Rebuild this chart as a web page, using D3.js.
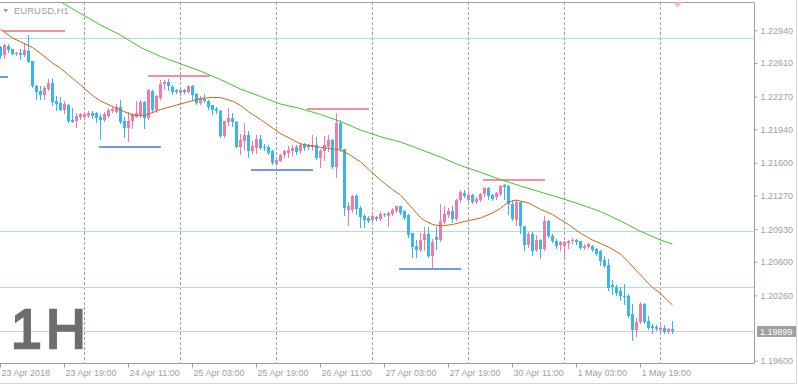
<!DOCTYPE html>
<html>
<head>
<meta charset="utf-8">
<script src="https://cdnjs.cloudflare.com/ajax/libs/d3/7.8.5/d3.min.js"></script>
<style>
  html, body { margin: 0; padding: 0; background: #fff; }
  svg { display: block; }
</style>
</head>
<body>
<svg id="chart"></svg>
<script>
// EURUSD H1, one value per bar (bar 0 = 23 Apr 2018 03:00)
const open = [
  1.22776, 1.22690, 1.22786, 1.22746, 1.22705, 1.22710, 1.22690, 1.22735, 1.22629, 1.22381,
  1.22331, 1.22281, 1.22346, 1.22412, 1.22230, 1.22210, 1.22134, 1.22185, 1.22033, 1.22028,
  1.22068, 1.22068, 1.22078, 1.22109, 1.22099, 1.22068, 1.22033, 1.22073, 1.22129, 1.22119,
  1.22164, 1.22028, 1.21957, 1.22023, 1.22068, 1.22084, 1.22220, 1.22058, 1.22331, 1.22134,
  1.22260, 1.22397, 1.22422, 1.22367, 1.22336, 1.22311, 1.22336, 1.22321, 1.22377, 1.22296,
  1.22210, 1.22250, 1.22230, 1.22180, 1.22149, 1.22129, 1.21871, 1.22018, 1.22053, 1.22018,
  1.21765, 1.21821, 1.21881, 1.21715, 1.21755, 1.21846, 1.21765, 1.21765, 1.21715, 1.21588,
  1.21619, 1.21679, 1.21699, 1.21720, 1.21765, 1.21715, 1.21780, 1.21780, 1.21765, 1.21785,
  1.21654, 1.21720, 1.21765, 1.21831, 1.21563, 1.21998, 1.21740, 1.21123, 1.21123, 1.21260,
  1.21148, 1.21062, 1.21047, 1.21027, 1.21057, 1.21037, 1.21088, 1.21067, 1.21083, 1.21118,
  1.21159, 1.21118, 1.21073, 1.20886, 1.20759, 1.20719, 1.20820, 1.20881, 1.20658, 1.20855,
  1.20820, 1.21002, 1.21073, 1.21118, 1.21037, 1.21224, 1.21300, 1.21224, 1.21275, 1.21209,
  1.21224, 1.21285, 1.21341, 1.21275, 1.21250, 1.21285, 1.21376, 1.21361, 1.21189, 1.21027,
  1.21204, 1.20961, 1.20769, 1.20881, 1.20719, 1.20820, 1.20734, 1.21017, 1.20860, 1.20815,
  1.20769, 1.20764, 1.20785, 1.20805, 1.20820, 1.20805, 1.20744, 1.20754, 1.20759, 1.20734,
  1.20704, 1.20613, 1.20567, 1.20365, 1.20340, 1.20309, 1.20254, 1.20254, 1.20072, 1.19915,
  1.19996, 1.20173, 1.20006, 1.19950, 1.19945, 1.19910, 1.19930, 1.19895, 1.19925
];
const high = [
  1.22781, 1.22801, 1.22801, 1.22756, 1.22725, 1.22756, 1.22801, 1.22892, 1.22634, 1.22387,
  1.22372, 1.22372, 1.22447, 1.22458, 1.22271, 1.22265, 1.22230, 1.22190, 1.22154, 1.22104,
  1.22099, 1.22109, 1.22129, 1.22124, 1.22119, 1.22094, 1.22119, 1.22159, 1.22169, 1.22190,
  1.22235, 1.22068, 1.22119, 1.22109, 1.22225, 1.22235, 1.22225, 1.22346, 1.22341, 1.22286,
  1.22437, 1.22437, 1.22447, 1.22387, 1.22351, 1.22351, 1.22351, 1.22392, 1.22382, 1.22306,
  1.22271, 1.22301, 1.22235, 1.22185, 1.22169, 1.22134, 1.22028, 1.22154, 1.22109, 1.22023,
  1.21896, 1.21998, 1.21927, 1.21821, 1.21881, 1.21881, 1.21790, 1.21780, 1.21725, 1.21654,
  1.21694, 1.21725, 1.21775, 1.21780, 1.21780, 1.21800, 1.21800, 1.21795, 1.21881, 1.21866,
  1.21745, 1.21871, 1.21881, 1.21846, 1.22099, 1.22033, 1.21745, 1.21209, 1.21275, 1.21290,
  1.21159, 1.21083, 1.21062, 1.21098, 1.21067, 1.21103, 1.21098, 1.21108, 1.21143, 1.21164,
  1.21164, 1.21123, 1.21083, 1.20891, 1.20820, 1.20886, 1.20956, 1.20956, 1.20835, 1.20956,
  1.21184, 1.21159, 1.21143, 1.21159, 1.21234, 1.21330, 1.21325, 1.21320, 1.21285, 1.21255,
  1.21295, 1.21351, 1.21351, 1.21285, 1.21310, 1.21376, 1.21391, 1.21376, 1.21224, 1.21229,
  1.21209, 1.20966, 1.20906, 1.20906, 1.20870, 1.20835, 1.21062, 1.21027, 1.20881, 1.20835,
  1.20815, 1.20810, 1.20820, 1.20840, 1.20835, 1.20815, 1.20779, 1.20785, 1.20769, 1.20744,
  1.20719, 1.20658, 1.20628, 1.20416, 1.20365, 1.20350, 1.20380, 1.20274, 1.20178, 1.20036,
  1.20198, 1.20183, 1.20052, 1.19971, 1.19961, 1.19961, 1.19961, 1.19935, 1.20006
];
const low = [
  1.22660, 1.22660, 1.22725, 1.22700, 1.22695, 1.22645, 1.22680, 1.22619, 1.22367, 1.22245,
  1.22245, 1.22250, 1.22336, 1.22185, 1.22134, 1.22134, 1.22109, 1.22018, 1.22013, 1.21967,
  1.22048, 1.22048, 1.22068, 1.22058, 1.22018, 1.21846, 1.22023, 1.22063, 1.22114, 1.22099,
  1.21998, 1.21866, 1.21816, 1.21957, 1.22063, 1.22068, 1.21957, 1.22048, 1.22119, 1.22119,
  1.22250, 1.22351, 1.22336, 1.22301, 1.22306, 1.22291, 1.22306, 1.22311, 1.22235, 1.22200,
  1.22200, 1.22220, 1.22149, 1.22089, 1.22099, 1.21866, 1.21861, 1.21982, 1.21972, 1.21760,
  1.21694, 1.21740, 1.21664, 1.21699, 1.21699, 1.21745, 1.21725, 1.21694, 1.21593, 1.21578,
  1.21614, 1.21664, 1.21664, 1.21679, 1.21694, 1.21704, 1.21730, 1.21740, 1.21730, 1.21644,
  1.21563, 1.21629, 1.21720, 1.21548, 1.21462, 1.21715, 1.21073, 1.20972, 1.21108, 1.21088,
  1.20956, 1.20956, 1.21007, 1.21007, 1.21027, 1.21027, 1.21062, 1.20961, 1.21073, 1.21108,
  1.21088, 1.21037, 1.20855, 1.20653, 1.20653, 1.20704, 1.20719, 1.20653, 1.20552, 1.20734,
  1.20805, 1.20987, 1.21057, 1.21007, 1.21027, 1.21209, 1.21250, 1.21209, 1.21199, 1.21199,
  1.21214, 1.21260, 1.21239, 1.21229, 1.21239, 1.21275, 1.21239, 1.21088, 1.21022, 1.20972,
  1.20886, 1.20719, 1.20754, 1.20668, 1.20704, 1.20643, 1.20719, 1.20850, 1.20795, 1.20744,
  1.20719, 1.20658, 1.20744, 1.20785, 1.20779, 1.20734, 1.20734, 1.20739, 1.20714, 1.20673,
  1.20567, 1.20552, 1.20319, 1.20274, 1.20264, 1.20218, 1.20178, 1.20046, 1.19809, 1.19849,
  1.19986, 1.19986, 1.19925, 1.19885, 1.19910, 1.19905, 1.19885, 1.19875, 1.19875
];
const close = [
  1.22680, 1.22791, 1.22741, 1.22705, 1.22715, 1.22690, 1.22741, 1.22624, 1.22377, 1.22321,
  1.22281, 1.22356, 1.22412, 1.22220, 1.22195, 1.22139, 1.22195, 1.22028, 1.22018, 1.22073,
  1.22089, 1.22089, 1.22109, 1.22073, 1.22053, 1.22033, 1.22089, 1.22139, 1.22149, 1.22169,
  1.22018, 1.21957, 1.22028, 1.22089, 1.22099, 1.22220, 1.22058, 1.22336, 1.22134, 1.22276,
  1.22402, 1.22422, 1.22372, 1.22316, 1.22316, 1.22341, 1.22321, 1.22381, 1.22286, 1.22210,
  1.22260, 1.22225, 1.22164, 1.22139, 1.22129, 1.21871, 1.22023, 1.22053, 1.22013, 1.21765,
  1.21831, 1.21886, 1.21715, 1.21770, 1.21846, 1.21755, 1.21750, 1.21704, 1.21598, 1.21629,
  1.21684, 1.21715, 1.21730, 1.21755, 1.21709, 1.21785, 1.21750, 1.21760, 1.21785, 1.21654,
  1.21720, 1.21785, 1.21831, 1.21563, 1.22003, 1.21745, 1.21148, 1.21159, 1.21260, 1.21138,
  1.21057, 1.21022, 1.21017, 1.21062, 1.21037, 1.21088, 1.21073, 1.21098, 1.21128, 1.21159,
  1.21098, 1.21047, 1.20870, 1.20754, 1.20719, 1.20825, 1.20881, 1.20658, 1.20795, 1.20820,
  1.21017, 1.21083, 1.21118, 1.21037, 1.21224, 1.21310, 1.21260, 1.21275, 1.21209, 1.21239,
  1.21285, 1.21341, 1.21260, 1.21239, 1.21300, 1.21366, 1.21351, 1.21189, 1.21037, 1.21204,
  1.20961, 1.20769, 1.20881, 1.20714, 1.20820, 1.20734, 1.21017, 1.20860, 1.20805, 1.20764,
  1.20795, 1.20795, 1.20815, 1.20825, 1.20795, 1.20744, 1.20764, 1.20779, 1.20724, 1.20683,
  1.20603, 1.20557, 1.20330, 1.20340, 1.20289, 1.20249, 1.20239, 1.20052, 1.19915, 1.19996,
  1.20173, 1.19996, 1.19935, 1.19935, 1.19925, 1.19935, 1.19895, 1.19925, 1.19899
];

// moving averages, read at sampled bars
const maFastBars = [0, 3, 5, 8, 10, 13, 15, 18, 20, 23, 25, 30, 33, 36, 40, 45, 50, 53, 55, 58,
  60, 62, 65, 70, 75, 80, 85, 87, 90, 95, 98, 100, 103, 105, 106, 108, 110, 113, 116, 120,
  123, 125, 127, 129, 132, 135, 138, 140, 142, 145, 148, 150, 152, 155, 157, 160, 163, 165, 168];
const maFast = [1.22950, 1.22862, 1.22825, 1.22766, 1.22707, 1.22609, 1.22556, 1.22455, 1.22387, 1.22281,
  1.22225, 1.22134, 1.22084, 1.22078, 1.22139, 1.22195, 1.22250, 1.22262, 1.22259, 1.22225,
  1.22180, 1.22117, 1.22038, 1.21896, 1.21792, 1.21757, 1.21730, 1.21689, 1.21611, 1.21426,
  1.21330, 1.21275, 1.21138, 1.21047, 1.21017, 1.20977, 1.20961, 1.20977, 1.21007, 1.21042,
  1.21093, 1.21140, 1.21204, 1.21224, 1.21194, 1.21130, 1.21078, 1.21027, 1.20977, 1.20888,
  1.20820, 1.20785, 1.20749, 1.20678, 1.20597, 1.20466, 1.20340, 1.20279, 1.20163];
const maSlowBars = [14, 20, 25, 30, 35, 40, 45, 50, 55, 60, 65, 70, 75, 80, 85, 90, 95, 100,
  105, 110, 115, 120, 125, 130, 135, 140, 145, 150, 155, 160, 165, 168];
const maSlow = [1.23251, 1.23110, 1.22993, 1.22892, 1.22767, 1.22675, 1.22601, 1.22528, 1.22442, 1.22346,
  1.22271, 1.22195, 1.22149, 1.22089, 1.22018, 1.21932, 1.21864, 1.21811, 1.21735, 1.21659,
  1.21573, 1.21504, 1.21431, 1.21366, 1.21305, 1.21244, 1.21179, 1.21108, 1.21012, 1.20908,
  1.20820, 1.20779];

// horizontal levels and short high/low segments
const levels = [1.22860, 1.20908, 1.20342];
const bidPrice = 1.19899;
const highSegPrice = [1.22936, 1.22478, 1.22149, 1.21426];
const highSegFrom = [0.75, 37, 76.75, 120.75];
const highSegTo = [16.25, 52.5, 92.25, 136.25];
const lowSegPrice = [1.22471, 1.21763, 1.21528, 1.20532];
const lowSegFrom = [-13.5, 24.75, 62.75, 99.75];
const lowSegTo = [2, 40.25, 78.25, 115.25];

// axes
const priceTicks = [1.2294, 1.2261, 1.2227, 1.2194, 1.2160, 1.2127, 1.2093, 1.2060, 1.2026, 1.1960];
const timeTickBars = [0, 16, 32, 48, 64, 80, 96, 112, 128, 144, 160];
const timeTickLabels = ["23 Apr 2018", "23 Apr 19:00", "24 Apr 11:00", "25 Apr 03:00", "25 Apr 19:00",
  "26 Apr 11:00", "27 Apr 03:00", "27 Apr 19:00", "30 Apr 11:00", "1 May 03:00", "1 May 19:00"];
const daySeparatorBars = [21, 45, 69, 93, 117, 141, 165];

const W = 798, H = 385;
const plot = { top: 2, right: 754, bottom: 363 };
const grey = "#a0a0a0";
const font = "'Liberation Sans', Arial, sans-serif";

const x = d3.scaleLinear().domain([0, 168]).range([0, 672]);
const y = d3.scaleLinear().domain([1.1960, 1.2294]).range([360.7, 30.3]);
const py = v => Math.round(y(v));

const svg = d3.select("#chart").attr("width", W).attr("height", H);

svg.append("defs").append("clipPath").attr("id", "plotClip")
  .append("rect")
  .attr("x", 0).attr("y", plot.top)
  .attr("width", plot.right).attr("height", plot.bottom - plot.top);

const g = svg.append("g").attr("clip-path", "url(#plotClip)");

// day separators
g.selectAll(".sep")
  .data(daySeparatorBars)
  .enter().append("line")
  .attr("x1", d => x(d) + 0.5).attr("x2", d => x(d) + 0.5)
  .attr("y1", plot.top).attr("y2", plot.bottom)
  .attr("stroke", grey)
  .attr("stroke-dasharray", "3,2");

// level lines
g.selectAll(".level")
  .data(levels)
  .enter().append("line")
  .attr("x1", 0).attr("x2", plot.right)
  .attr("y1", d => py(d) + 0.5).attr("y2", d => py(d) + 0.5)
  .attr("stroke", "#a9e2e6");

g.append("line")
  .attr("x1", 0).attr("x2", plot.right)
  .attr("y1", py(bidPrice) + 0.5).attr("y2", py(bidPrice) + 0.5)
  .attr("stroke", "#ffbccb");

// big timeframe label, above the bid line
svg.append("text")
  .attr("x", 11).attr("y", 348)
  .style("font-family", font).style("font-size", "55px")
  .style("letter-spacing", "4.5px")
  .attr("fill", "#6d6d6d").attr("stroke", "#6d6d6d").attr("stroke-width", 2.6)
  .attr("stroke-linejoin", "miter")
  .text("1H");

// high / low segments
const segs = highSegPrice.map((p, i) => ({ p, a: highSegFrom[i], b: highSegTo[i], c: "#f2909b" }))
  .concat(lowSegPrice.map((p, i) => ({ p, a: lowSegFrom[i], b: lowSegTo[i], c: "#6e9be9" })));
g.selectAll(".seg")
  .data(segs)
  .enter().append("rect")
  .attr("x", d => x(d.a)).attr("width", d => x(d.b) - x(d.a))
  .attr("y", d => py(d.p) - 1).attr("height", 2)
  .attr("fill", d => d.c);

// candles
const bars = open.map((o, i) => ({ i, o, h: high[i], l: low[i], c: close[i] }));
const upColor = "#f279ad", downColor = "#35b7f3";
const candle = g.append("g").attr("shape-rendering", "crispEdges")
  .selectAll("g")
  .data(bars)
  .enter().append("g")
  .attr("fill", d => d.c >= d.o ? upColor : downColor);

candle.append("rect")
  .attr("x", d => x(d.i)).attr("width", 1)
  .attr("y", d => py(d.h))
  .attr("height", d => py(d.l) - py(d.h) + 1);

candle.append("rect")
  .attr("x", d => x(d.i) - 1).attr("width", 3)
  .attr("y", d => py(Math.max(d.o, d.c)))
  .attr("height", d => Math.max(1, py(Math.min(d.o, d.c)) - py(Math.max(d.o, d.c))));

// moving averages
const line = d3.line().x(d => x(d[0]) + 0.5).y(d => y(d[1]));
g.append("path")
  .datum(maSlowBars.map((b, i) => [b, maSlow[i]]))
  .attr("d", line)
  .attr("fill", "none").attr("stroke", "#3ec62a").attr("stroke-width", 1);
g.append("path")
  .datum(maFastBars.map((b, i) => [b, maFast[i]]))
  .attr("d", line)
  .attr("fill", "none").attr("stroke", "#cc650f").attr("stroke-width", 1);

// frame
svg.append("path")
  .attr("d", `M0,${plot.top + 0.5}H${plot.right + 0.5}V${plot.bottom + 0.5}H0`)
  .attr("fill", "none").attr("stroke", grey);
svg.append("path")
  .attr("d", `M${W - 1.5},0V${H - 1.5}H0`)
  .attr("fill", "none").attr("stroke", "#d6d6d6");

// price axis
svg.append("g")
  .attr("transform", `translate(${plot.right + 0.5},0)`)
  .call(d3.axisRight(y).tickValues(priceTicks).tickSize(3).tickPadding(3).tickFormat(d3.format(".5f")))
  .call(a => a.select(".domain").remove())
  .call(a => a.selectAll("line").attr("stroke", grey))
  .call(a => a.selectAll("text").attr("fill", grey))
  .attr("font-family", font).attr("font-size", 9);

// bid price label
const bidY = py(bidPrice);
svg.append("rect")
  .attr("x", 757).attr("y", bidY - 5).attr("width", 39).attr("height", 11)
  .attr("fill", grey);
svg.append("text")
  .attr("x", 760).attr("y", bidY + 4)
  .style("font-family", font).style("font-size", "9px")
  .attr("fill", "#fff")
  .text(d3.format(".5f")(bidPrice));

// time axis
svg.append("g")
  .attr("transform", `translate(0,${plot.bottom + 0.5})`)
  .call(d3.axisBottom(x).tickValues(timeTickBars).tickSize(4).tickPadding(2.5)
    .tickFormat((d, i) => timeTickLabels[i]))
  .call(a => a.select(".domain").remove())
  .call(a => a.selectAll("line").attr("stroke", grey))
  .call(a => a.selectAll("text").attr("fill", grey).attr("text-anchor", "start").attr("x", 1))
  .attr("font-family", font).attr("font-size", 9);

// symbol caption
svg.append("path").attr("d", "M3,9H8.5L5.75,12.5Z").attr("fill", grey);
svg.append("text")
  .attr("x", 14).attr("y", 14)
  .style("font-family", font).style("font-size", "9.5px")
  .attr("fill", grey)
  .text("EURUSD,H1");

// shift marker
svg.append("path").attr("d", "M673.5,2.5H682L677.75,7.5Z").attr("fill", "#ffb8c6");
</script>
</body>
</html>
